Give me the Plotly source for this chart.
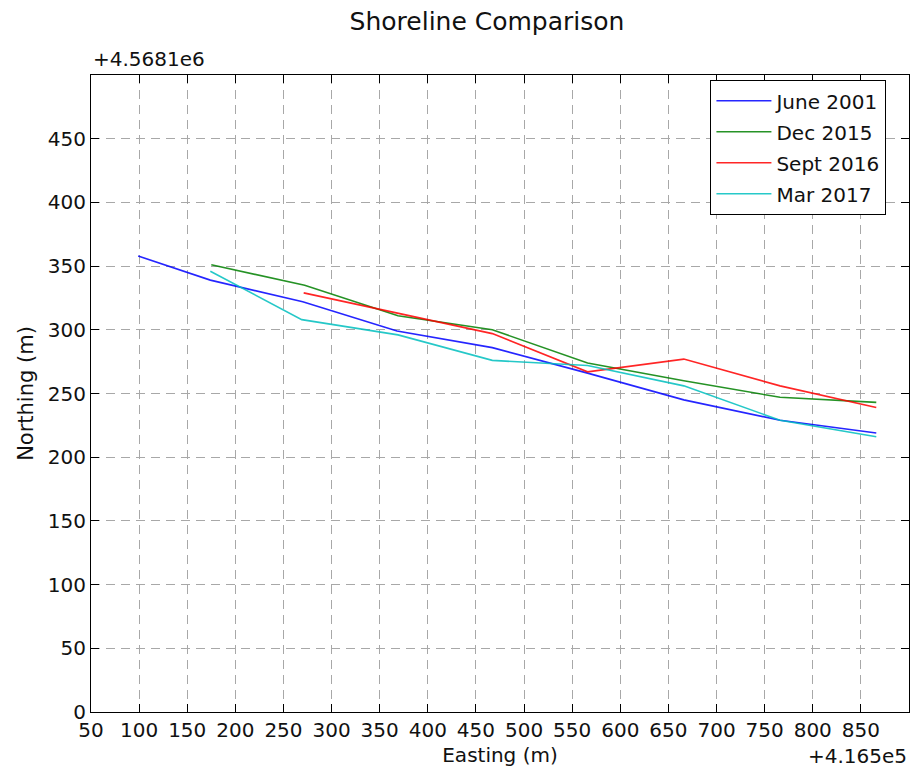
import plotly.graph_objects as go

# Easting offsets (m, relative to 4.165e5) and Northing offsets (m, relative to 4.5681e6)
june2001_x = [99, 174, 270, 368, 467, 566, 666, 766, 866]
june2001_y = [358, 339, 322, 299, 286, 266, 245, 229, 219]

dec2015_x = [175, 272, 369, 467, 566, 666, 766, 866]
dec2015_y = [351, 335, 311, 300, 274, 260, 247, 243]

sept2016_x = [271, 369, 467, 566, 666, 766, 866]
sept2016_y = [329, 313, 297, 267, 277, 256, 239]

mar2017_x = [174, 269, 369, 467, 566, 666, 766, 866]
mar2017_y = [346, 308, 296, 276, 272, 256, 229, 216]

series = [
    ("June 2001", june2001_x, june2001_y, "#0000ff"),
    ("Dec 2015", dec2015_x, dec2015_y, "#008000"),
    ("Sept 2016", sept2016_x, sept2016_y, "#ff0000"),
    ("Mar 2017", mar2017_x, mar2017_y, "#00bfbf"),
]

x_ticks = list(range(50, 851, 50))
y_ticks = list(range(0, 451, 50))

FONT = "DejaVu Sans"
fig = go.Figure()
for name, xs, ys, col in series:
    fig.add_trace(go.Scatter(x=xs, y=ys, mode="lines", name=name, legendgroup=name,
                             line=dict(color=col, width=1.6), opacity=0.85))

axis_common = dict(
    showline=True, linecolor="black", linewidth=1.2, mirror="allticks",
    ticks="inside", ticklen=8, tickcolor="black", tickwidth=1,
    showgrid=True, gridcolor="#a8a8a8", gridwidth=1, griddash="9px,6px",
    zeroline=False, tickfont=dict(family=FONT, size=20, color="#111"),
)

fig.update_layout(
    width=912, height=769,
    margin=dict(l=91, r=3, t=75, b=57),
    paper_bgcolor="white", plot_bgcolor="white",
    font=dict(family=FONT, size=20, color="#111"),
    title=dict(text="Shoreline Comparison", x=487 / 912, xref="container",
               xanchor="center",
               y=1 - 21 / 769, yref="container", yanchor="middle",
               font=dict(family=FONT, size=25, color="#111")),
    xaxis=dict(range=[50, 900], tickvals=x_ticks,
               title=dict(text="Easting (m)", standoff=6, font=dict(size=20)),
               **axis_common),
    yaxis=dict(range=[0, 500], tickvals=y_ticks,
               title=dict(text="Northing (m)", standoff=8, font=dict(size=21)),
               **axis_common),
    legend=dict(x=0.757, y=0.992, xanchor="left", yanchor="top",
                bordercolor="black", borderwidth=1.2, bgcolor="white",
                font=dict(family=FONT, size=20, color="#111"),
                tracegroupgap=2, itemwidth=55),
    showlegend=True,
)

fig.add_annotation(text="+4.5681e6", xref="paper", yref="paper", x=0, y=1,
                   xanchor="left", yanchor="bottom", yshift=2, showarrow=False,
                   font=dict(family=FONT, size=20, color="#111"))
fig.add_annotation(text="+4.165e5", xref="paper", yref="paper", x=1, y=0,
                   xanchor="right", yanchor="top", yshift=-30, showarrow=False,
                   font=dict(family=FONT, size=20, color="#111"))

fig.write_html("out.html")
